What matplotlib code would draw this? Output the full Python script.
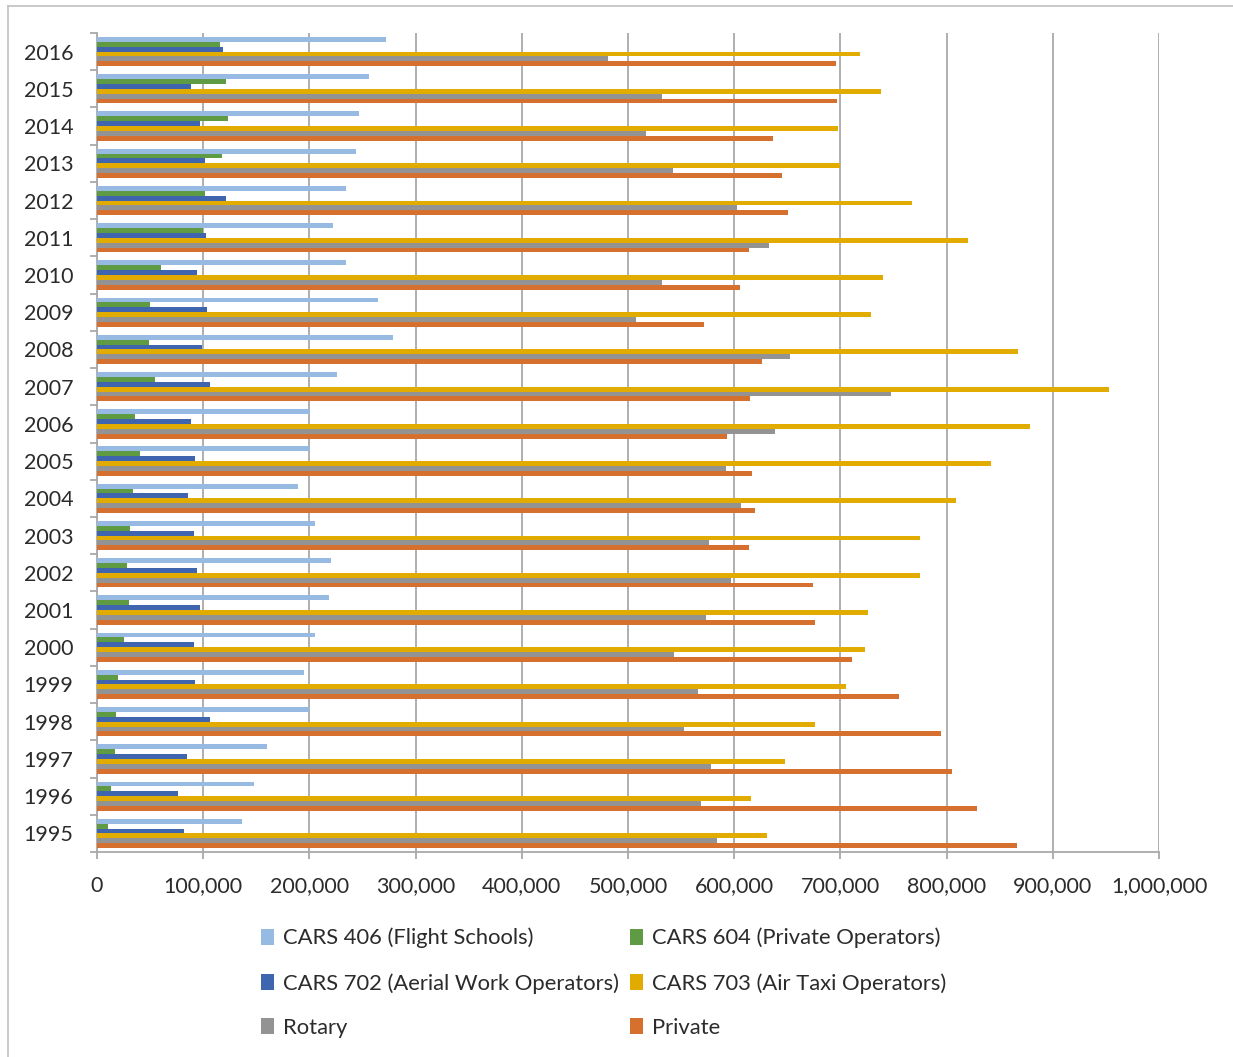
import matplotlib
matplotlib.use("Agg")
import matplotlib.pyplot as plt
import numpy as np
from matplotlib.patches import Patch
from matplotlib.lines import Line2D
from matplotlib.ticker import FuncFormatter, FixedLocator

plt.rcParams['font.family'] = ['Lato', 'DejaVu Sans']

years = list(range(1995, 2017))

# values per year, 1995 .. 2016
cars406 = [137000, 148000, 160000, 200000, 195000, 205000, 218000, 220000, 205000, 189000, 201000,
           201000, 226000, 279000, 265000, 234000, 222000, 234000, 244000, 247000, 256000, 272000]
cars604 = [10000, 13500, 17000, 18000, 20000, 25000, 30000, 28000, 31000, 34000, 40500,
           36000, 55000, 49000, 50000, 60500, 100000, 102000, 118000, 123000, 121000, 116000]
cars702 = [82000, 76000, 85000, 106000, 92000, 91000, 97000, 94000, 91000, 86000, 92000,
           88500, 106000, 99000, 104000, 94000, 103000, 121000, 102000, 97000, 88500, 119000]
cars703 = [631000, 616000, 648000, 676000, 705000, 723500, 726000, 775000, 775000, 809000, 842000,
           879000, 953000, 867000, 729000, 740500, 820000, 767000, 700000, 698000, 738000, 718000]
rotary = [584000, 569000, 578000, 553000, 566000, 543000, 573000, 597000, 576000, 606000, 592000,
          638000, 747600, 652600, 508000, 532000, 633000, 603000, 542000, 517000, 532000, 481000]
private = [866000, 829000, 805000, 795000, 755000, 711000, 676000, 674000, 614000, 620000, 617000,
           593500, 615000, 626600, 572000, 605000, 614000, 651000, 645000, 637000, 697000, 696000]

series = [cars406, cars604, cars702, cars703, rotary, private]
labels = ["CARS 406 (Flight Schools)", "CARS 604 (Private Operators)",
          "CARS 702 (Aerial Work Operators)", "CARS 703 (Air Taxi Operators)",
          "Rotary", "Private"]
colors = ["#97bae2", "#5f9b42", "#3f65af", "#e2ab00", "#939393", "#d6702e"]

text_col = "#2b2b2b"
grid_col = "#a9a9a9"

fig = plt.figure(figsize=(12.33, 10.57), dpi=100)
ax = fig.add_axes([97/1233, 1-852/1057, (1159-97)/1233, (852-33)/1057])

y = np.arange(len(years))
h = 0.131
for k, (vals, c) in enumerate(zip(series, colors)):
    ax.barh(y + (2.5 - k) * h, vals, height=h, color=c, edgecolor='none', zorder=3)

ax.set_xlim(0, 1000000)
ax.set_ylim(-0.5, len(years) - 0.5)
ax.set_xticks(np.arange(0, 1000001, 100000))
ax.xaxis.set_major_formatter(FuncFormatter(lambda v, p: '{:,.0f}'.format(v)))
ax.set_yticks(y)
ax.set_yticklabels([str(v) for v in years])
ax.yaxis.set_minor_locator(FixedLocator(np.arange(-0.5, len(years), 1.0)))

ax.grid(axis='x', color=grid_col, linewidth=1.3, zorder=0)
for s in ['top', 'right']:
    ax.spines[s].set_visible(False)
for s in ['left', 'bottom']:
    ax.spines[s].set_color(grid_col)
    ax.spines[s].set_linewidth(1.3)

ax.tick_params(axis='y', which='major', length=0, pad=17, labelsize=15.5, labelcolor=text_col)
ax.tick_params(axis='y', which='minor', length=5, width=1.3, color=grid_col, direction='out')
ax.tick_params(axis='x', which='major', length=5, width=1.3, color=grid_col, pad=12,
               labelsize=15.5, labelcolor=text_col)

# legend: column-first order
order = [0, 2, 4, 1, 3, 5]
handles = [Patch(facecolor=colors[i], edgecolor='none', label=labels[i]) for i in order]
leg = fig.legend(handles=handles, ncol=2, loc='upper left',
                 bbox_to_anchor=(241/1233, 1-908/1057), frameon=False,
                 fontsize=15.8, handlelength=0.6, handleheight=0.75,
                 handletextpad=0.4, columnspacing=0.5, labelspacing=1.12)
for t in leg.get_texts():
    t.set_color(text_col)

# chart area border
fig.add_artist(Line2D([8/1233, 8/1233], [0, 1-6/1057], transform=fig.transFigure,
                      color='#c0c0c0', linewidth=1.2))
fig.add_artist(Line2D([8/1233, 1], [1-6/1057, 1-6/1057], transform=fig.transFigure,
                      color='#c0c0c0', linewidth=1.2))

fig.savefig("out.png", dpi=100)
